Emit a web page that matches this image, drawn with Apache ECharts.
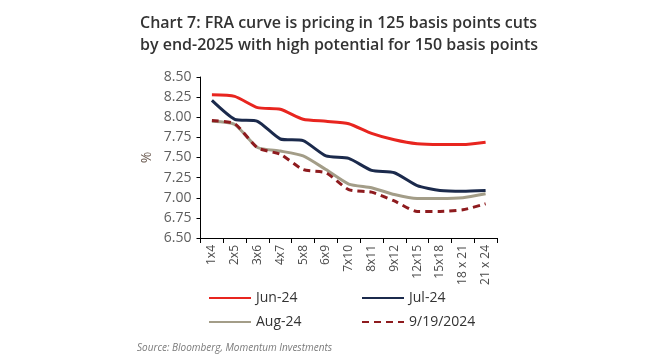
<!DOCTYPE html>
<html><head><meta charset="utf-8">
<script src="https://cdn.jsdelivr.net/npm/echarts@6/dist/echarts.min.js"></script>
<style>html,body{margin:0;padding:0;background:#fff}#c{width:660px;height:361px}</style>
</head><body><div id="c"></div>
<script>
var categories = ['1x4','2x5','3x6','4x7','5x8','6x9','7x10','8x11','9x12','12x15','15x18','18 x 21','21 x 24'];
var jun24 = [8.28,8.26,8.12,8.10,7.975,7.95,7.92,7.80,7.72,7.67,7.66,7.66,7.69];
var jul24 = [8.21,7.975,7.95,7.73,7.71,7.52,7.49,7.34,7.31,7.15,7.09,7.08,7.09];
var aug24 = [7.95,7.91,7.625,7.58,7.52,7.35,7.17,7.125,7.04,6.99,6.99,7.00,7.05];
var sep19 = [7.96,7.92,7.62,7.54,7.35,7.31,7.10,7.07,6.96,6.83,6.83,6.85,6.925];
var yTicks = [6.5,6.75,7.0,7.25,7.5,7.75,8.0,8.25,8.5];

var chart = echarts.init(document.getElementById('c'));
var FONT = '"Open Sans", "Noto Sans", sans-serif';
function mk(name, data, color, type) {
  return {name: name, type: 'line', data: data, symbol: 'none', smooth: 0.2,
    lineStyle: {color: color, width: 3, type: type || 'solid'},
    itemStyle: {color: color}, z: 3};
}
function lg(name, left, top) {
  return {data: [name], left: left, top: top, orient: 'horizontal', itemWidth: 42, itemHeight: 3,
    itemGap: 4, padding: 0, itemStyle: {opacity: 0},
    textStyle: {fontFamily: FONT, fontSize: 14, color: '#333'}};
}
chart.setOption({
  animation: false,
  textStyle: {fontFamily: FONT},
  title: {
    text: 'Chart 7: FRA curve is pricing in 125 basis points cuts\nby end-2025 with high potential for 150 basis points',
    left: 135, top: 7,
    textStyle: {fontFamily: FONT, fontSize: 16, fontWeight: 600, color: '#333', lineHeight: 22}
  },
  graphic: [{type: 'text', left: 137, top: 343,
    style: {text: 'Source: Bloomberg, Momentum Investments', fontFamily: FONT, fontSize: 10, fontStyle: 'italic', fill: '#7a7a7a'}}],
  legend: [lg('Jun-24', 208, 291), lg('Jul-24', 361, 291), lg('Aug-24', 208, 315), lg('9/19/2024', 361, 315)],
  grid: {left: 200.5, right: 163, top: 77, bottom: 123, containLabel: false},
  xAxis: {
    type: 'category', data: categories, boundaryGap: true,
    axisLine: {lineStyle: {color: '#000', width: 1}},
    axisTick: {show: true, alignWithLabel: false, length: 5, lineStyle: {color: '#000'}},
    axisLabel: {rotate: 90, interval: 0, fontFamily: FONT, fontSize: 12, color: '#4a4a4a', margin: 7}
  },
  yAxis: {
    type: 'value', min: 6.5, max: 8.5, interval: 0.25,
    name: '%', nameLocation: 'middle', nameGap: 46, nameRotate: 90,
    nameTextStyle: {fontFamily: FONT, fontSize: 14, color: '#6a5a50'},
    axisLine: {show: true, lineStyle: {color: '#000', width: 1}},
    axisTick: {show: true, length: 4, lineStyle: {color: '#000'}},
    splitLine: {show: false},
    axisLabel: {fontFamily: FONT, fontSize: 14, color: '#5e5e5e', margin: 9,
      formatter: function (v) { return v.toFixed(2); }}
  },
  series: [
    mk('Jun-24', jun24, '#e8251f'),
    mk('Jul-24', jul24, '#1b2a4c'),
    mk('Aug-24', aug24, '#a39d88'),
    mk('9/19/2024', sep19, '#8e1b1e', [7, 5])
  ]
});
</script></body></html>
